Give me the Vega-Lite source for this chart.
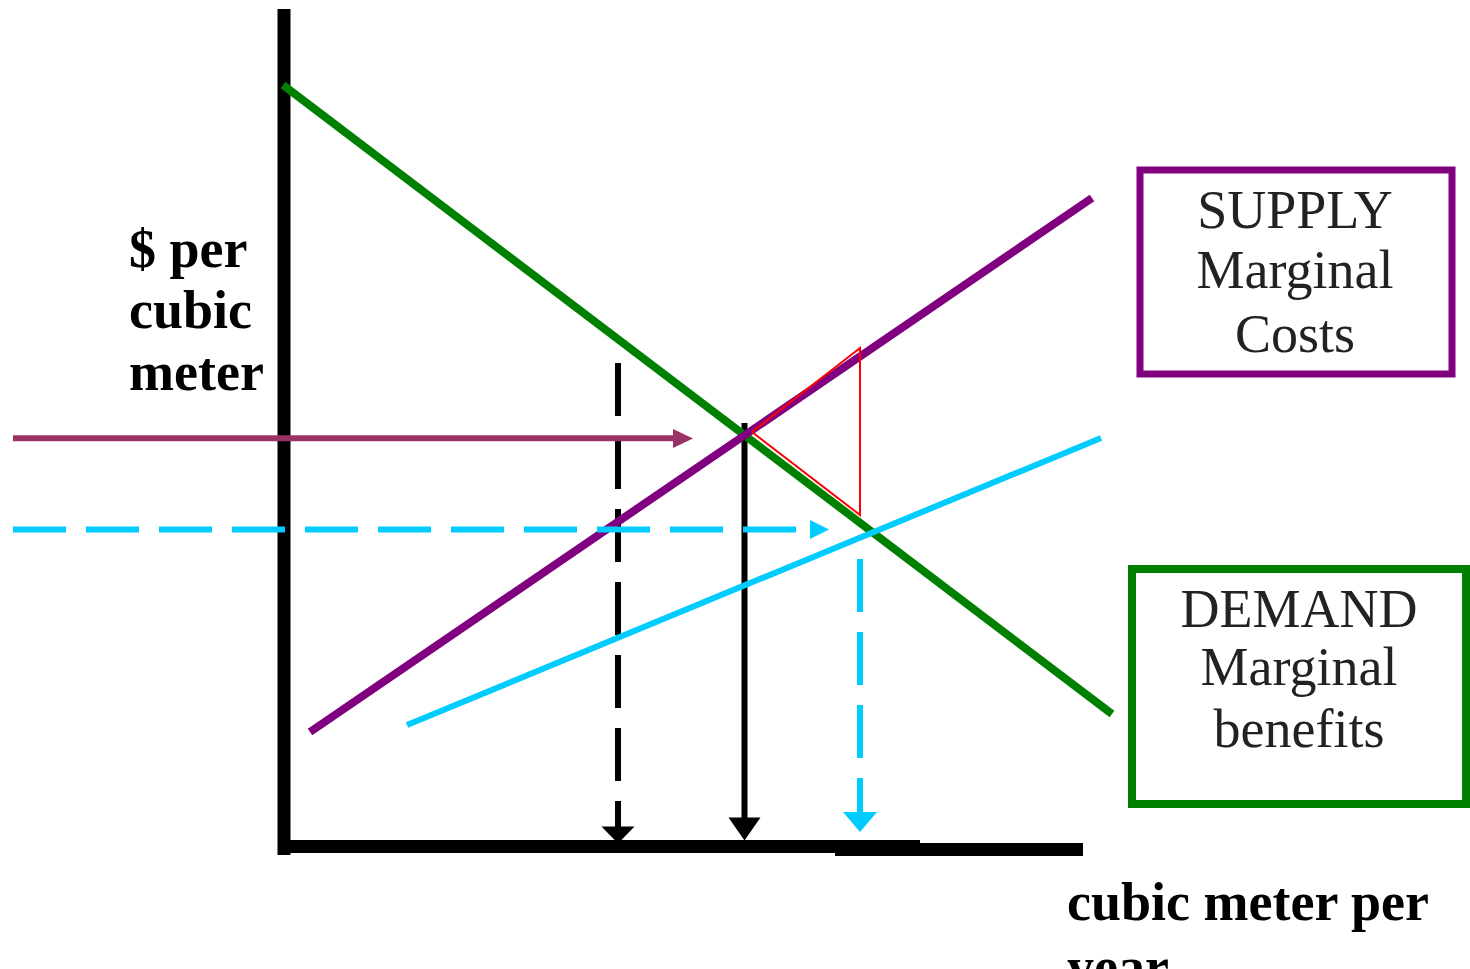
{
  "$schema": "https://vega.github.io/schema/vega-lite/v6.json",
  "width": 1470,
  "height": 969,
  "autosize": "none",
  "padding": 0,
  "background": "#ffffff",
  "config": {"view": {"stroke": null}},
  "encoding": {
    "x": {"field": "q", "type": "quantitative", "scale": {"domain": [-28.5, 118.5], "nice": false, "zero": false}, "axis": null},
    "y": {"field": "p", "type": "quantitative", "scale": {"domain": [-12.1, 84.8], "nice": false, "zero": false}, "axis": null}
  },
  "layer": [
    {
      "data": {"values": [
        {"part": "price axis", "q": -0.1, "p": 83.9, "q2": -0.1, "p2": -0.7},
        {"part": "quantity axis a", "q": -0.7, "p": 0.15, "q2": 63.5, "p2": 0.15},
        {"part": "quantity axis b", "q": 55, "p": -0.15, "q2": 79.8, "p2": -0.15}
      ]},
      "mark": {"type": "rule", "color": "#000000", "strokeWidth": 13},
      "encoding": {"x2": {"field": "q2"}, "y2": {"field": "p2"}}
    },
    {
      "data": {"values": [{"q": 33.3, "p": 48.5, "q2": 33.3, "p2": 2.0}]},
      "mark": {"type": "rule", "color": "#000000", "strokeWidth": 6, "strokeDash": [53, 20]},
      "encoding": {"x2": {"field": "q2"}, "y2": {"field": "p2"}}
    },
    {
      "data": {"values": [{"q": 45.95, "p": 42.5, "q2": 45.95, "p2": 3.0}]},
      "mark": {"type": "rule", "color": "#000000", "strokeWidth": 6},
      "encoding": {"x2": {"field": "q2"}, "y2": {"field": "p2"}}
    },
    {
      "data": {"values": [{"curve": "demand", "q": -0.2, "p": 76.3, "q2": 82.7, "p2": 13.4}]},
      "mark": {"type": "rule", "color": "#008000", "strokeWidth": 8},
      "encoding": {"x2": {"field": "q2"}, "y2": {"field": "p2"}}
    },
    {
      "data": {"values": [{"curve": "supply", "q": 2.5, "p": 11.6, "q2": 80.7, "p2": 65.0}]},
      "mark": {"type": "rule", "color": "#800080", "strokeWidth": 8},
      "encoding": {"x2": {"field": "q2"}, "y2": {"field": "p2"}}
    },
    {
      "data": {"values": [{"curve": "shifted", "q": 12.2, "p": 12.3, "q2": 81.6, "p2": 41.0}]},
      "mark": {"type": "rule", "color": "#00CCFF", "strokeWidth": 6},
      "encoding": {"x2": {"field": "q2"}, "y2": {"field": "p2"}}
    },
    {
      "data": {"values": [{"q": -27.2, "p": 40.97, "q2": 39.0, "p2": 40.97}]},
      "mark": {"type": "rule", "color": "#993366", "strokeWidth": 6},
      "encoding": {"x2": {"field": "q2"}, "y2": {"field": "p2"}}
    },
    {
      "data": {"values": [{"q": -27.2, "p": 31.85, "q2": 52.3, "p2": 31.85}]},
      "mark": {"type": "rule", "color": "#00CCFF", "strokeWidth": 6, "strokeDash": [53, 20]},
      "encoding": {"x2": {"field": "q2"}, "y2": {"field": "p2"}}
    },
    {
      "data": {"values": [{"q": 57.5, "p": 28.9, "q2": 57.5, "p2": 3.6}]},
      "mark": {"type": "rule", "color": "#00CCFF", "strokeWidth": 6, "strokeDash": [53, 20]},
      "encoding": {"x2": {"field": "q2"}, "y2": {"field": "p2"}}
    },
    {
      "data": {"values": [
        {"i": 0, "q": 46.7, "p": 41.6},
        {"i": 1, "q": 57.5, "p": 50.0},
        {"i": 2, "q": 57.5, "p": 33.3},
        {"i": 3, "q": 46.7, "p": 41.6}
      ]},
      "mark": {"type": "line", "color": "#FF0000", "strokeWidth": 2, "strokeJoin": "miter"},
      "encoding": {"order": {"field": "i", "type": "quantitative"}}
    },
    {
      "data": {"values": [{"q": 39.8, "p": 40.95}]},
      "mark": {"type": "point", "filled": true, "color": "#993366", "opacity": 1, "shape": "M-1,-0.95L1,0L-1,0.95Z", "size": 400}
    },
    {
      "data": {"values": [{"q": 53.45, "p": 31.85}]},
      "mark": {"type": "point", "filled": true, "color": "#00CCFF", "opacity": 1, "shape": "M-1,-1L1,0L-1,1Z", "size": 361}
    },
    {
      "data": {"values": [{"q": 33.3, "p": 1.3}]},
      "mark": {"type": "point", "filled": true, "color": "#000000", "opacity": 1, "shape": "M-1,-0.52L1,-0.52L0,0.52Z", "size": 1089}
    },
    {
      "data": {"values": [{"q": 45.95, "p": 1.9}]},
      "mark": {"type": "point", "filled": true, "color": "#000000", "opacity": 1, "shape": "M-1,-0.72L1,-0.72L0,0.72Z", "size": 1024}
    },
    {
      "data": {"values": [{"q": 57.5, "p": 2.6}]},
      "mark": {"type": "point", "filled": true, "color": "#00CCFF", "opacity": 1, "shape": "M-1,-0.59L1,-0.59L0,0.59Z", "size": 1156}
    },
    {
      "data": {"values": [{"box": "supply", "q": 85.5, "p": 67.8, "q2": 116.7, "p2": 47.4}]},
      "mark": {"type": "rect", "filled": false, "stroke": "#800080", "strokeWidth": 7},
      "encoding": {"x2": {"field": "q2"}, "y2": {"field": "p2"}}
    },
    {
      "data": {"values": [{"box": "demand", "q": 84.7, "p": 27.9, "q2": 118.1, "p2": 4.4}]},
      "mark": {"type": "rect", "filled": false, "stroke": "#008000", "strokeWidth": 8},
      "encoding": {"x2": {"field": "q2"}, "y2": {"field": "p2"}}
    },
    {
      "data": {"values": [
        {"t": "SUPPLY", "q": 101.0, "p": 62.0},
        {"t": "Marginal", "q": 101.0, "p": 56.0},
        {"t": "Costs", "q": 101.0, "p": 49.6},
        {"t": "DEMAND", "q": 101.4, "p": 22.1},
        {"t": "Marginal", "q": 101.4, "p": 16.3},
        {"t": "benefits", "q": 101.4, "p": 10.1}
      ]},
      "mark": {"type": "text", "font": "Liberation Serif", "fontSize": 54, "color": "#222222", "align": "center", "baseline": "alphabetic"},
      "encoding": {"text": {"field": "t"}}
    },
    {
      "data": {"values": [
        {"t": "$ per", "q": -15.6, "p": 58.1},
        {"t": "cubic", "q": -15.6, "p": 52.0},
        {"t": "meter", "q": -15.6, "p": 45.8},
        {"t": "cubic meter per", "q": 78.2, "p": -7.2},
        {"t": "year", "q": 78.2, "p": -13.7}
      ]},
      "mark": {"type": "text", "font": "Liberation Serif", "fontSize": 54, "fontWeight": "bold", "color": "#000000", "align": "left", "baseline": "alphabetic"},
      "encoding": {"text": {"field": "t"}}
    }
  ]
}
